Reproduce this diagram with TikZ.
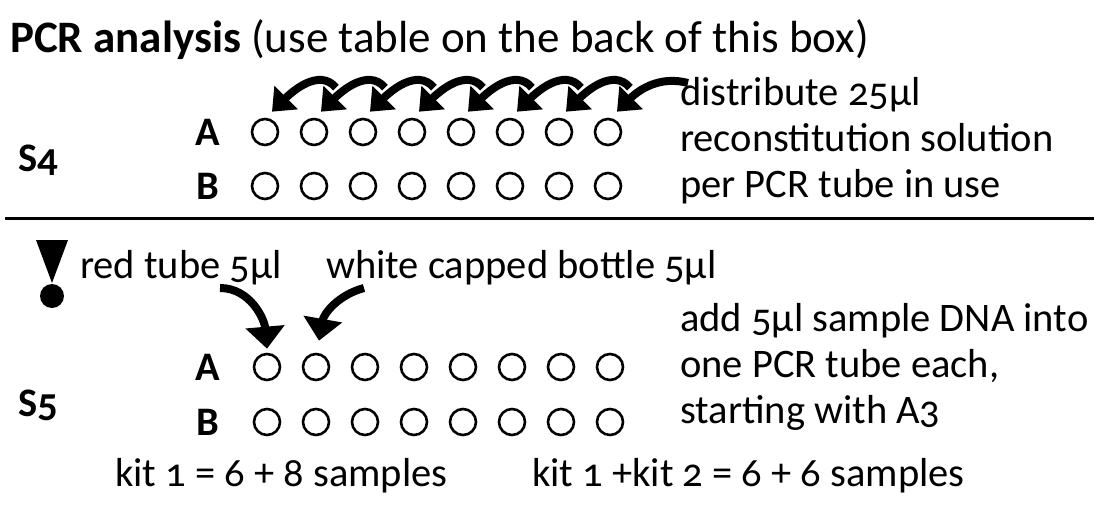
\documentclass[tikz,border=0pt]{standalone}
\usepackage{fontspec}
\setmainfont[Numbers=OldStyle]{Carlito}
\usetikzlibrary{arrows.meta, positioning}

\begin{document}
\begin{tikzpicture}[x=1pt, y=1pt, font=\fontsize{40.5}{46}\selectfont]

\tikzstyle{tube} = [circle, draw, line width=2.6pt, minimum size=26pt, inner sep=0pt]
\tikzstyle{row} = [font=\fontsize{40.5}{46}\selectfont\bfseries]
\tikzstyle{dispense} = [line width=8pt, -{Triangle[width=32pt, length=20pt]}]
\tikzstyle{pipette} = [line width=8pt, -{Triangle[width=38pt, length=22pt]}]
\tikzstyle{note} = [align=left, inner sep=0pt]

\useasboundingbox (0,0) rectangle (1104,-506);

% Nodes
\node[anchor=base west, inner sep=0pt, font=\fontsize{45}{50}\selectfont] (title) at (10,-52) {\textbf{PCR analysis} (use table on the back of this box)};

\node[row] (s4) at (38,-160) {S4};
\node[row] (s4A) at (208,-132) {A};
\node[row] (s4B) at (208,-186) {B};
\foreach \i in {1,...,8} {
  \node[tube] (a\i) at (265+49*\i-49,-132) {};
  \node[tube] (b\i) at (265+49*\i-49,-186) {};
}
\node[note, anchor=west] (distr) at (680,-141) {distribute 25µl\\reconstitution solution\\per PCR tube in use};
\coordinate (distrfrom) at (688,-83);

\draw[line width=3pt] (5,-218) -- (1094,-218);

\fill (36,-240) -- (68,-240) -- (52,-283) -- cycle;
\fill (52,-296) circle (12pt);

\node[row] (s5) at (38,-405) {S5};
\node[note, anchor=west] (red) at (80,-268) {red tube 5µl};
\node[note, anchor=west] (white) at (326,-268) {white capped bottle 5µl};
\node[row] (s5A) at (208,-367) {A};
\node[row] (s5B) at (208,-422) {B};
\foreach \i in {1,...,8} {
  \node[tube] (c\i) at (267+49*\i-49,-367) {};
  \node[tube] (d\i) at (267+49*\i-49,-422) {};
}
\node[note, anchor=west] (add) at (680,-367) {add 5µl sample DNA into\\one PCR tube each,\\starting with A3};
\coordinate (redfrom) at (220,-288);
\coordinate (whitefrom) at (364,-288);

\node[note, anchor=west] (kitA) at (115,-476) {kit 1 = 6 + 8 samples};
\node[note, anchor=west] (kitB) at (532,-476) {kit 1 +kit 2 = 6 + 6 samples};

% Connections
\draw[dispense] (distrfrom) to[out=165, in=45] ([xshift=9pt, yshift=6pt]a8.north);
\foreach \i/\j in {1/2, 2/3, 3/4, 4/5, 5/6, 6/7, 7/8}
  \draw[dispense] ([xshift=22pt, yshift=30pt]a\j.north) to[out=130, in=45] ([xshift=7pt, yshift=6pt]a\i.north);

\draw[pipette] (redfrom) to[out=0, in=95] ([yshift=4pt]c1.north);
\draw[pipette] (whitefrom) to[out=195, in=80] ([xshift=3pt, yshift=12pt]c2.north);

\end{tikzpicture}
\end{document}
